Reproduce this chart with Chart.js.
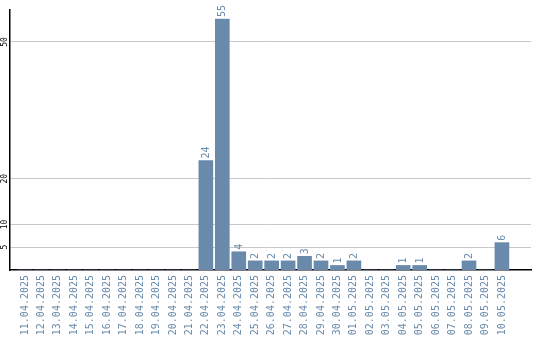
<!DOCTYPE html>
<html>
<head>
<meta charset="utf-8">
<script src="https://cdn.jsdelivr.net/npm/chart.js@4.4.1/dist/chart.umd.min.js"></script>
<style>
    body { margin: 0; background: #ffffff; }
    canvas { display: block; }
</style>
</head>
<body>
<canvas id="day_chart" width="540" height="340"></canvas>
<script>
// daily counts, 11.04.2025 - 10.05.2025
const DAY_LABELS = [
    '11.04.2025', '12.04.2025', '13.04.2025', '14.04.2025', '15.04.2025',
    '16.04.2025', '17.04.2025', '18.04.2025', '19.04.2025', '20.04.2025',
    '21.04.2025', '22.04.2025', '23.04.2025', '24.04.2025', '25.04.2025',
    '26.04.2025', '27.04.2025', '28.04.2025', '29.04.2025', '30.04.2025',
    '01.05.2025', '02.05.2025', '03.05.2025', '04.05.2025', '05.05.2025',
    '06.05.2025', '07.05.2025', '08.05.2025', '09.05.2025', '10.05.2025'
];
const DAY_COUNTS = [
    0, 0, 0, 0, 0, 0, 0, 0, 0, 0,
    0, 24, 55, 4, 2, 2, 2, 3, 2, 1,
    2, 0, 0, 1, 1, 0, 0, 2, 0, 6
];
const Y_TICKS = [5, 10, 20, 50];

const BAR_COLOR = '#6a8aab';
const MONO = '"DejaVu Sans Mono", monospace';

let bar_points = [];
for (let i = 0; i < DAY_COUNTS.length; i++) {
    bar_points.push({x: i, y: DAY_COUNTS[i]});
}

// numbers above the bars, written upwards
const value_labels = {
    id: 'value_labels',
    afterDatasetsDraw(chart) {
        let ctx = chart.ctx;
        let meta = chart.getDatasetMeta(0);
        ctx.save();
        ctx.fillStyle = BAR_COLOR;
        ctx.font = '10px ' + MONO;
        ctx.textAlign = 'left';
        ctx.textBaseline = 'middle';
        meta.data.forEach(function (bar, i) {
            if (!DAY_COUNTS[i]) {
                return;
            }
            ctx.save();
            ctx.translate(bar.x + 0.5, bar.y - 2);
            ctx.rotate(-Math.PI / 2);
            ctx.fillText(String(DAY_COUNTS[i]), 0, 0);
            ctx.restore();
        });
        ctx.restore();
    }
};

let THE_CHART = new Chart(document.getElementById('day_chart'), {
    type: 'bar',
    data: {
        datasets: [{
            data: bar_points,
            backgroundColor: BAR_COLOR,
            barThickness: 14,
            borderWidth: 0
        }]
    },
    options: {
        responsive: false,
        animation: false,
        layout: {padding: {top: 10, right: 9, left: 0, bottom: 0}},
        plugins: {
            legend: {display: false},
            tooltip: {enabled: false}
        },
        scales: {
            x: {
                type: 'linear',
                min: -0.38,
                max: 30.24,
                afterFit: function (scale) { scale.height = 70; },
                grid: {display: false, drawTicks: false},
                border: {display: true, color: '#000000', width: 1.5},
                ticks: {
                    stepSize: 1,
                    includeBounds: false,
                    autoSkip: false,
                    minRotation: 90,
                    maxRotation: 90,
                    padding: 5,
                    color: BAR_COLOR,
                    font: {family: MONO, size: 10},
                    callback: function (value) {
                        return Number.isInteger(value) ? DAY_LABELS[value] : '';
                    }
                }
            },
            y: {
                min: 0,
                max: 57,
                afterFit: function (scale) { scale.width = 10; },
                afterBuildTicks: function (scale) {
                    scale.ticks = Y_TICKS.map(v => ({value: v}));
                },
                grid: {color: '#c8c8c8', lineWidth: 1, drawTicks: false},
                border: {display: true, color: '#000000', width: 1.5},
                ticks: {
                    minRotation: 90,
                    maxRotation: 90,
                    crossAlign: 'center',
                    padding: 0,
                    color: '#000000',
                    font: {family: MONO, size: 8}
                }
            }
        }
    },
    plugins: [value_labels]
});
</script>
</body>
</html>
